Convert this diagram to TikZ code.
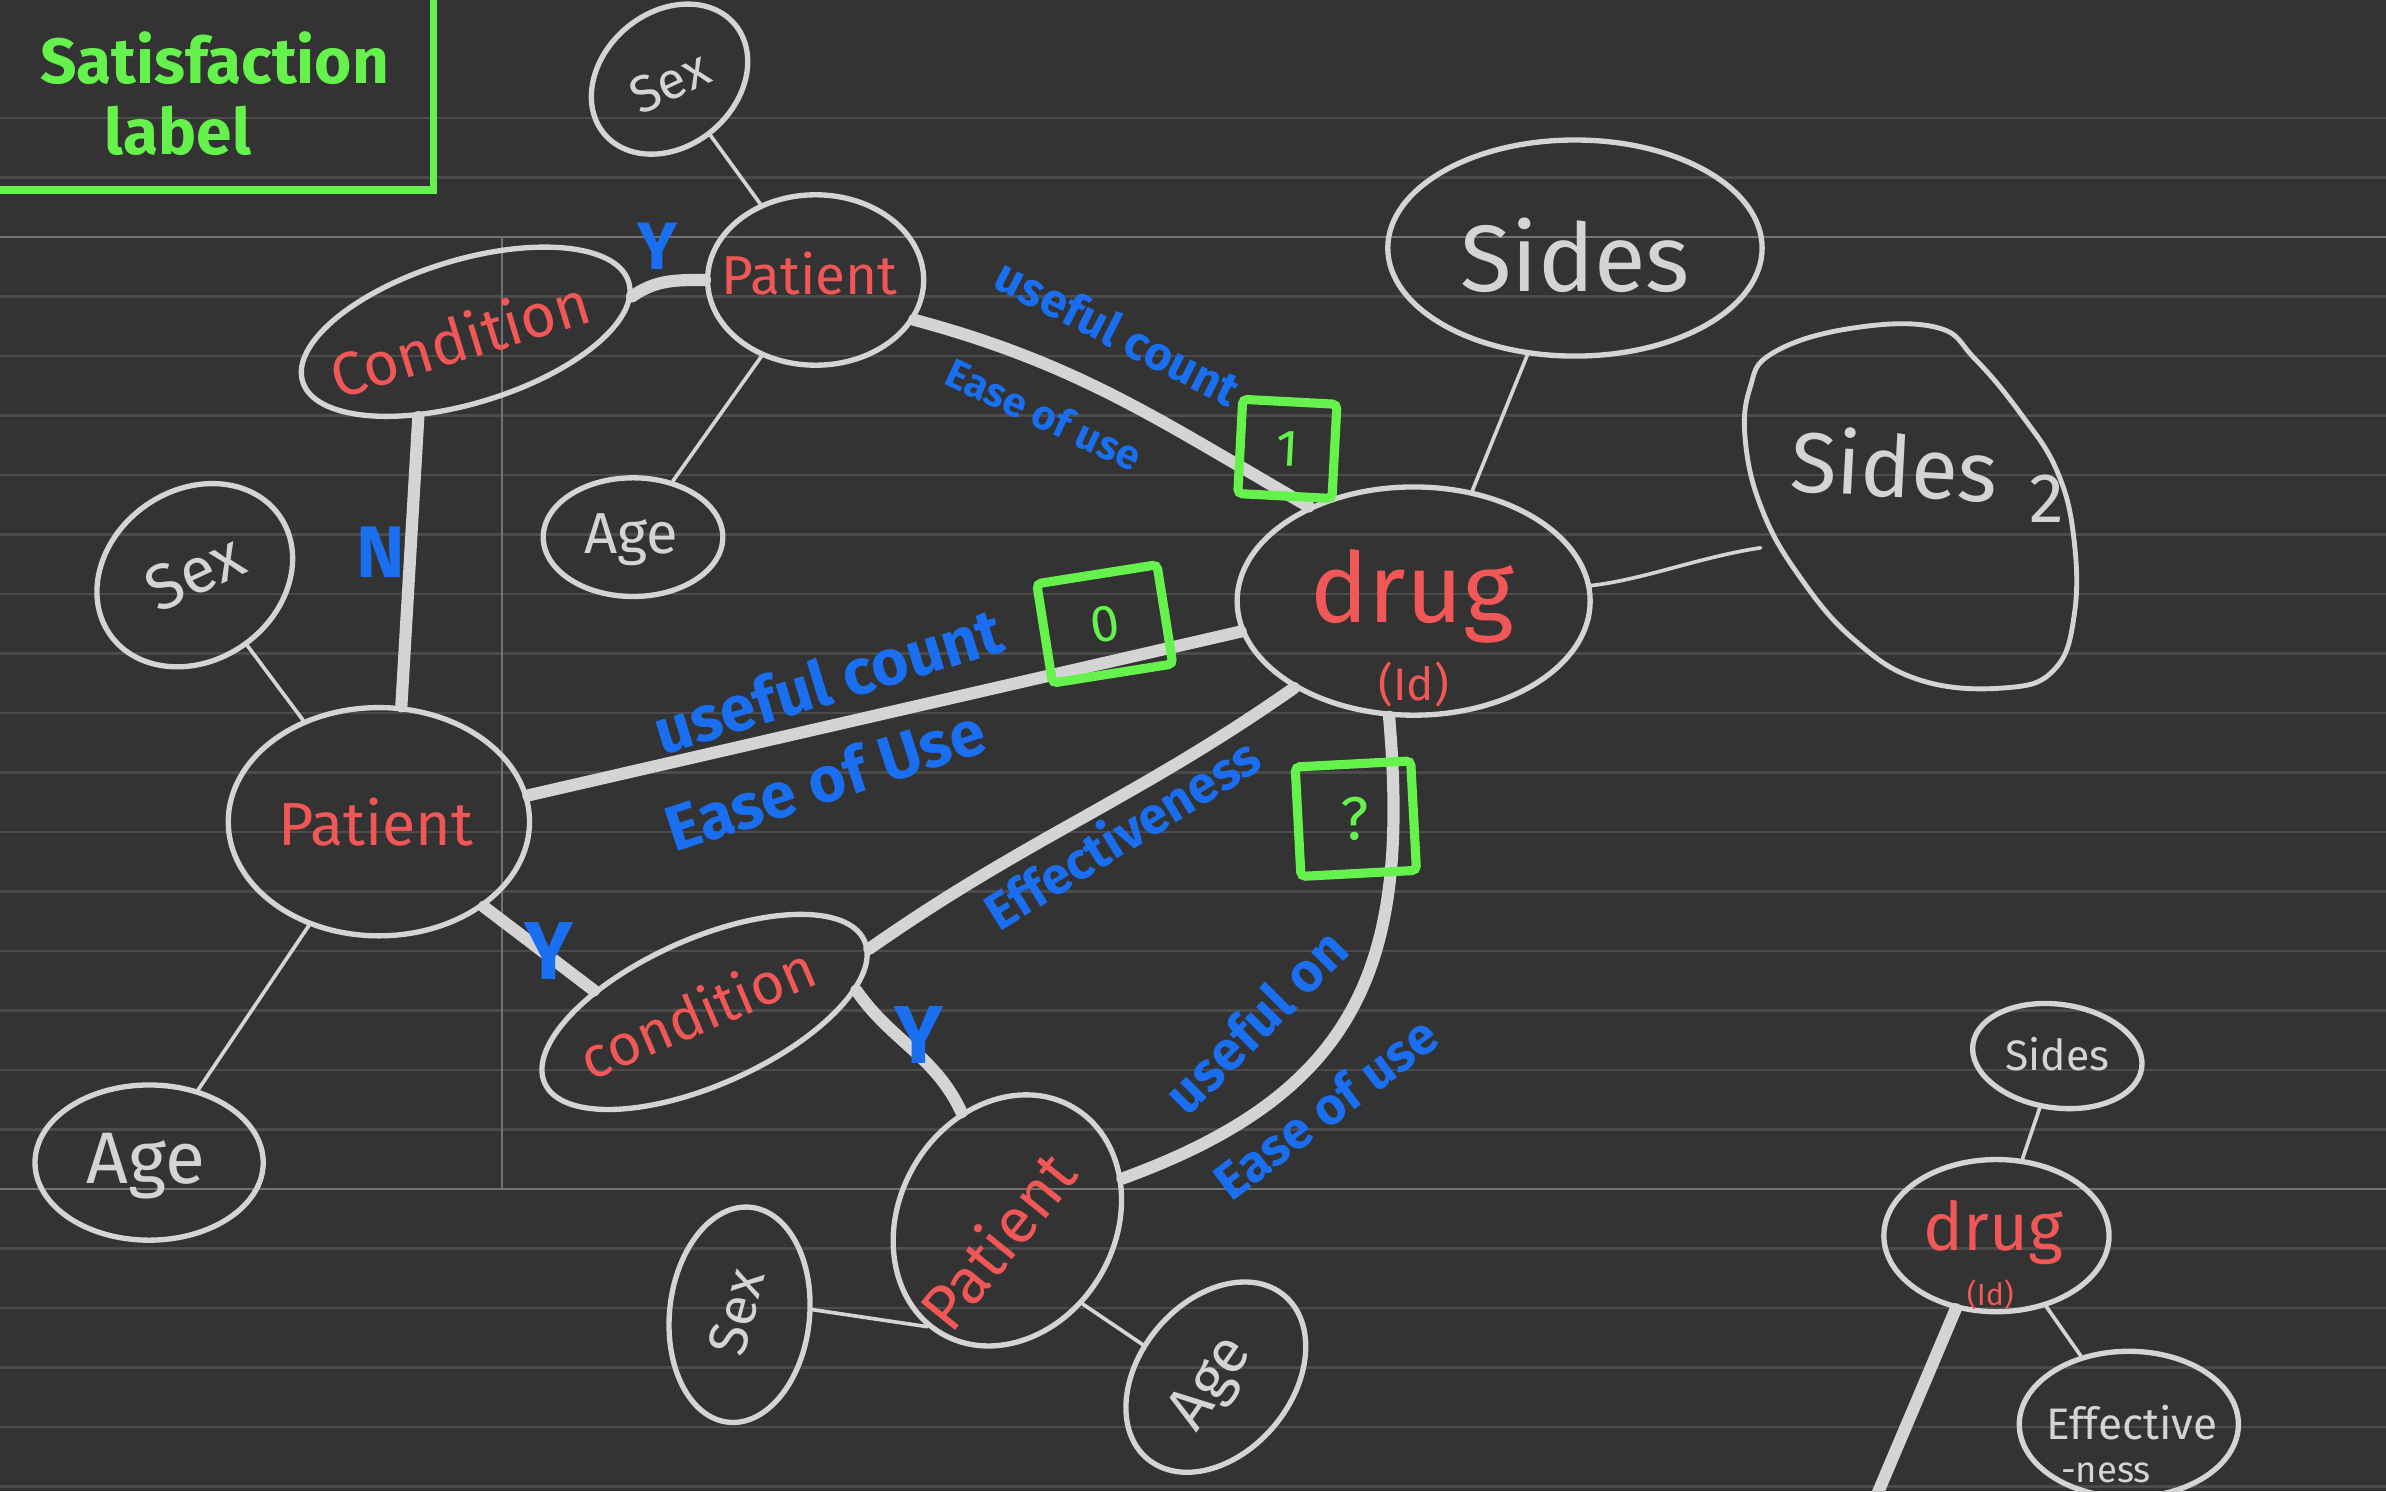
\documentclass[tikz,border=0pt]{standalone}
\usepackage{fontspec}
\setmainfont{Fira Sans}
\usetikzlibrary{shapes.geometric}
\definecolor{bg}{HTML}{333333}
\definecolor{rulec}{HTML}{4B4B4B}
\definecolor{rulehi}{HTML}{727272}
\definecolor{chalk}{HTML}{D4D4D4}
\definecolor{rtx}{HTML}{F25757}
\definecolor{btx}{HTML}{1A6EF0}
\definecolor{gtx}{HTML}{66F24C}
\newcommand\fs[1]{\fontsize{#1}{#1}\selectfont}
\begin{document}
\begin{tikzpicture}[x=1pt,y=1pt,
  ell/.style={ellipse, draw=chalk, line width=3.5pt, inner sep=0pt},
  thinline/.style={draw=chalk, line width=2.4pt, line cap=round},
  boldline/.style={draw=chalk, line width=8pt, line cap=round},
  rtext/.style={text=rtx, inner sep=0pt},
  wtext/.style={text=chalk, inner sep=0pt},
  btext/.style={text=btx, inner sep=0pt},
  gbox/.style={draw=gtx, line width=6pt, rounded corners=3pt, inner sep=0pt, text=gtx},
]
\useasboundingbox (0,0) rectangle (1568,-980);
\fill[bg] (0,0) rectangle (1568,-980);
\clip (0,0) rectangle (1568,-980);
% ruled paper
\foreach \k in {0,...,23}
  \draw[rulec, line width=1.8pt] (0,{-77.5-39.1*\k}) -- (1568,{-77.5-39.1*\k});
\draw[rulehi, line width=1.8pt] (0,-155.7) -- (1568,-155.7);
\draw[rulehi, line width=1.8pt] (0,-781.3) -- (1568,-781.3);
\draw[rulehi, line width=1.3pt] (330,-155.7) -- (330,-781.3);

% satisfaction label box
\node[draw=gtx, line width=5pt, minimum width=300pt, minimum height=140pt, inner sep=0pt] (satbox) at (135,-55) {};
\node[text=gtx, font=\fs{42}\bfseries, inner sep=0pt] (sat1) at (141,-38) {Satisfaction};
\node[text=gtx, font=\fs{42}\bfseries, inner sep=0pt] (sat2) at (117,-86) {label};

% ellipses
\node[ell, minimum width=112pt, minimum height=88pt, rotate=40] (sextop) at (440,-52) {};
\node[wtext, font=\fs{34}, rotate=25] (sextopt) at (440,-54) {Sex};
\node[ell, minimum width=142pt, minimum height=112pt] (ptop) at (536,-184) {};
\node[rtext, font=\fs{36}] (ptopt) at (532,-180) {Patient};
\node[ell, minimum width=224pt, minimum height=94pt, rotate=17] (ctop) at (306,-218) {};
\node[rtext, font=\fs{40}, rotate=17] (ctopt) at (302,-222) {Condition};
\node[ell, minimum width=118pt, minimum height=78pt] (agetop) at (416,-353) {};
\node[wtext, font=\fs{38}] (agetopt) at (415,-355) {Age};
\node[ell, minimum width=246pt, minimum height=142pt] (sides) at (1035,-163) {};
\node[wtext, font=\fs{62}] (sidest) at (1035,-168) {Sides};
\node[ell, minimum width=232pt, minimum height=150pt] (drug) at (929,-395) {};
\node[rtext, font=\fs{64}] (drugt) at (928,-392) {drug};
\node[rtext, font=\fs{30}] (drugid) at (929,-450) {(Id)};
\node[ell, minimum width=136pt, minimum height=112pt, rotate=35] (sexleft) at (128,-378) {};
\node[wtext, font=\fs{42}, rotate=25] (sexleftt) at (128,-376) {Sex};
\node[ell, minimum width=198pt, minimum height=150pt] (pleft) at (249,-540) {};
\node[rtext, font=\fs{40}] (pleftt) at (247,-540) {Patient};
\node[ell, minimum width=150pt, minimum height=102pt] (agebl) at (98,-764) {};
\node[wtext, font=\fs{48}] (ageblt) at (96,-766) {Age};
\node[ell, minimum width=230pt, minimum height=96pt, rotate=24] (cbot) at (463,-665) {};
\node[rtext, font=\fs{38}, rotate=23] (cbott) at (458,-665) {condition};
\node[ell, minimum width=172pt, minimum height=142pt, rotate=60] (pbot) at (662,-802) {};
\node[rtext, font=\fs{42}, rotate=51] (pbott) at (655,-815) {Patient};
\node[ell, minimum width=92pt, minimum height=142pt, rotate=-6] (sexbot) at (486,-864) {};
\node[wtext, font=\fs{36}, rotate=75] (sexbott) at (484,-862) {Sex};
\node[ell, minimum width=140pt, minimum height=100pt, rotate=50] (agebot) at (799,-905) {};
\node[wtext, font=\fs{40}, rotate=55] (agebott) at (797,-910) {Age};
\node[ell, minimum width=112pt, minimum height=68pt, rotate=-8] (sidesS) at (1352,-694) {};
\node[wtext, font=\fs{28}] (sidesSt) at (1352,-693) {Sides};
\node[ell, minimum width=148pt, minimum height=100pt] (dsmall) at (1312,-812) {};
\node[rtext, font=\fs{44}] (dsmallt) at (1310,-810) {drug};
\node[rtext, font=\fs{20}] (dsmallid) at (1308,-851) {(Id)};
\node[ell, minimum width=144pt, minimum height=96pt] (effS) at (1399,-936) {};
\node[wtext, font=\fs{29}] (effSt) at (1401,-935) {Effective};
\node[wtext, font=\fs{24}] (effSt2) at (1384,-968) {-ness};

% Sides 2 blob
\draw[chalk, line width=3.2pt] plot[smooth cycle, tension=0.7] coordinates {
 (1165,-232) (1215,-216) (1272,-215) (1298,-236) (1328,-272) (1352,-310)
 (1363,-355) (1363,-405) (1350,-440) (1318,-452) (1262,-447) (1218,-420)
 (1182,-378) (1158,-335) (1147,-290) (1150,-255)};
\node[wtext, font=\fs{56}, rotate=-3] (sides2t) at (1245,-305) {Sides};
\node[wtext, font=\fs{46}] (sides2n) at (1345,-328) {2};
\coordinate (s2w) at (1157,-360);
\coordinate (dsoff) at (1226,-1000);

% thin connectors
\draw[thinline] (sextop) -- (ptop);
\draw[thinline] (ptop) -- (agetop);
\draw[thinline] (sexleft) -- (pleft);
\draw[thinline] (pleft) -- (agebl);
\draw[thinline] (sides.246) -- (drug.62);
\draw[thinline] (drug.5) .. controls +(35,4) and +(-40,-6) .. (s2w);
\draw[thinline] (pbot.173) -- (sexbot.10);
\draw[thinline] (pbot.-108) -- (agebot.106);
\draw[thinline] (sidesS) -- (dsmall);
\draw[thinline] (dsmall) -- (effS);

% thick connectors
\draw[boldline] (ctop.-5) to[out=35,in=180] (ptop.west);
\draw[boldline] (ctop.224) -- (pleft.79);
\draw[boldline] (ptop.-22) to[out=-15,in=150] (drug.138);
\draw[boldline] (pleft.10) -- (drug.190);
\draw[boldline] (drug.216) to[out=215,in=35] (cbot.-3);
\draw[boldline] (drug.258) to[out=-85,in=20,looseness=1.2] (pbot.-40);
\draw[boldline] (pleft.-39) -- (cbot.145);
\draw[boldline] (cbot.-16) to[out=-55,in=115] (pbot.53);
\draw[boldline] (dsmall.241) -- (dsoff);

% green boxes
\node[gbox, minimum width=62pt, minimum height=62pt, rotate=-3, font=\fs{34}] (b1) at (846,-295) {1};
\node[gbox, minimum width=80pt, minimum height=66pt, rotate=9, font=\fs{34}] (b0) at (726,-410) {0};
\node[gbox, minimum width=76pt, minimum height=72pt, rotate=3, font=\fs{40}] (bq) at (891,-538) {?};

% blue labels
\node[btext, font=\fs{44}\bfseries] (ly1) at (432,-162) {Y};
\node[btext, font=\fs{48}\bfseries] (ln) at (250,-363) {N};
\node[btext, font=\fs{31}\bfseries, rotate=-27] (luc1) at (735,-218) {useful count};
\node[btext, font=\fs{27}\bfseries, rotate=-25] (leu1) at (686,-272) {Ease of use};
\node[btext, font=\fs{42}\bfseries, rotate=17] (luc2) at (544,-447) {useful count};
\node[btext, font=\fs{42}\bfseries, rotate=18] (leu2) at (542,-512) {Ease of Use};
\node[btext, font=\fs{34}\bfseries, rotate=32] (leff) at (737,-547) {Effectiveness};
\node[btext, font=\fs{36}\bfseries, rotate=45] (luon) at (825,-671) {useful on};
\node[btext, font=\fs{34}\bfseries, rotate=37] (leu3) at (871,-728) {Ease of use};
\node[btext, font=\fs{54}\bfseries] (ly2) at (361,-625) {Y};
\node[btext, font=\fs{54}\bfseries] (ly3) at (604,-680) {Y};
\end{tikzpicture}
\end{document}
